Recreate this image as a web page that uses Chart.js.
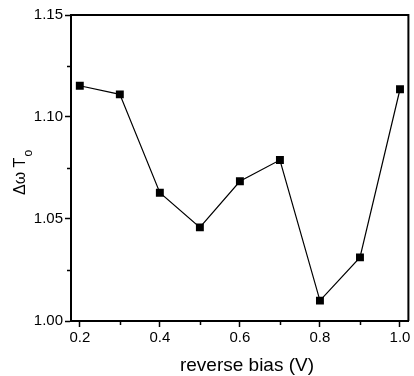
<!DOCTYPE html>
<html>
<head>
<meta charset="utf-8">
<script src="https://cdn.jsdelivr.net/npm/chart.js@4.4.1/dist/chart.umd.min.js"></script>
<style>
  html, body { margin: 0; padding: 0; background: #fff; }
  #wrap { width: 414px; height: 376px; position: relative; }
</style>
</head>
<body>
<div id="wrap"><canvas id="chart1"></canvas></div>
<script>
// data
var biasV = [0.2, 0.3, 0.4, 0.5, 0.6, 0.7, 0.8, 0.9, 1.0];
var dwT = [1.1153, 1.1111, 1.0629, 1.0459, 1.0685, 1.0789, 1.0100, 1.0312, 1.1136];

// axis ticks
var xTicks = [0.2, 0.4, 0.6, 0.8, 1.0];
var xMinor = [0.3, 0.5, 0.7, 0.9];
var yTicks = [1.00, 1.05, 1.10, 1.15];
var yMinor = [1.025, 1.075, 1.125];

var xTitle = 'reverse bias (V)';
var yTitle = 'Δω T';
var ySub = 'o';

var FONT = '"Liberation Sans", Arial, sans-serif';

// frame, minor ticks and axis titles
var framePlugin = {
	id: 'frame',
	afterDraw: function(chart){
		var ctx = chart.ctx;
		var a = chart.chartArea;
		var sx = chart.scales.x, sy = chart.scales.y;
		ctx.save();
		ctx.strokeStyle = '#000';
		ctx.lineWidth = 2;
		ctx.beginPath();
		ctx.moveTo(a.left, a.top);
		ctx.lineTo(a.right, a.top);
		ctx.lineTo(a.right, a.bottom);
		ctx.stroke();

		// minor ticks
		ctx.lineWidth = 1.5;
		ctx.beginPath();
		xMinor.forEach(function(v){
			var px = Math.round(sx.getPixelForValue(v)) + 0.5;
			ctx.moveTo(px, a.bottom);
			ctx.lineTo(px, a.bottom + 4);
		});
		yMinor.forEach(function(v){
			var py = Math.round(sy.getPixelForValue(v)) + 0.5;
			ctx.moveTo(a.left, py);
			ctx.lineTo(a.left - 4, py);
		});
		ctx.stroke();

		// x title
		ctx.fillStyle = '#000';
		ctx.font = '19px ' + FONT;
		ctx.textAlign = 'center';
		ctx.textBaseline = 'alphabetic';
		ctx.fillText(xTitle, 247, 371);

		// y title (rotated, subscript o)
		ctx.translate(25, 195);
		ctx.rotate(-Math.PI / 2);
		ctx.textAlign = 'left';
		ctx.font = '16px ' + FONT;
		ctx.fillText(yTitle, 0, 0);
		var w = ctx.measureText(yTitle).width;
		ctx.font = '12px ' + FONT;
		ctx.fillText(ySub, w + 1, 7);
		ctx.restore();
	}
};

var config = {
	type: 'line',
	data: {
		datasets: [{
			data: biasV.map(function(v, i){ return {x: v, y: dwT[i]}; }),
			borderColor: '#000',
			borderWidth: 1.2,
			backgroundColor: '#000',
			pointStyle: 'rect',
			pointRadius: 5.6,
			pointHoverRadius: 5.6,
			pointBorderWidth: 0,
			pointBackgroundColor: '#000',
			tension: 0,
			fill: false
		}]
	},
	options: {
		responsive: true,
		maintainAspectRatio: false,
		animation: false,
		events: [],
		layout: { padding: { top: 15, right: 4, left: 0, bottom: 0 } },
		plugins: {
			legend: { display: false },
			tooltip: { enabled: false }
		},
		scales: {
			x: {
				type: 'linear',
				min: 0.178,
				max: 1.021,
				afterBuildTicks: function(scale){
					scale.ticks = xTicks.map(function(v){ return {value: v}; });
				},
				afterFit: function(scale){ scale.height = 55; },
				ticks: {
					color: '#000',
					font: { family: FONT, size: 15 },
					padding: 2,
					maxRotation: 0,
					callback: function(v){ return Number(v).toFixed(1); }
				},
				grid: {
					drawOnChartArea: false,
					drawTicks: true,
					tickLength: 6,
					tickColor: '#000',
					tickWidth: 1.5
				},
				border: { color: '#000', width: 2 }
			},
			y: {
				min: 1.0,
				max: 1.15,
				afterBuildTicks: function(scale){
					scale.ticks = yTicks.map(function(v){ return {value: v}; });
				},
				afterFit: function(scale){ scale.width = 71; },
				ticks: {
					color: '#000',
					font: { family: FONT, size: 15 },
					padding: 2,
					callback: function(v){ return Number(v).toFixed(2); }
				},
				grid: {
					drawOnChartArea: false,
					drawTicks: true,
					tickLength: 6,
					tickColor: '#000',
					tickWidth: 1.5
				},
				border: { color: '#000', width: 2 }
			}
		}
	},
	plugins: [framePlugin]
};

var chart1 = new Chart(document.getElementById('chart1'), config);
</script>
</body>
</html>
